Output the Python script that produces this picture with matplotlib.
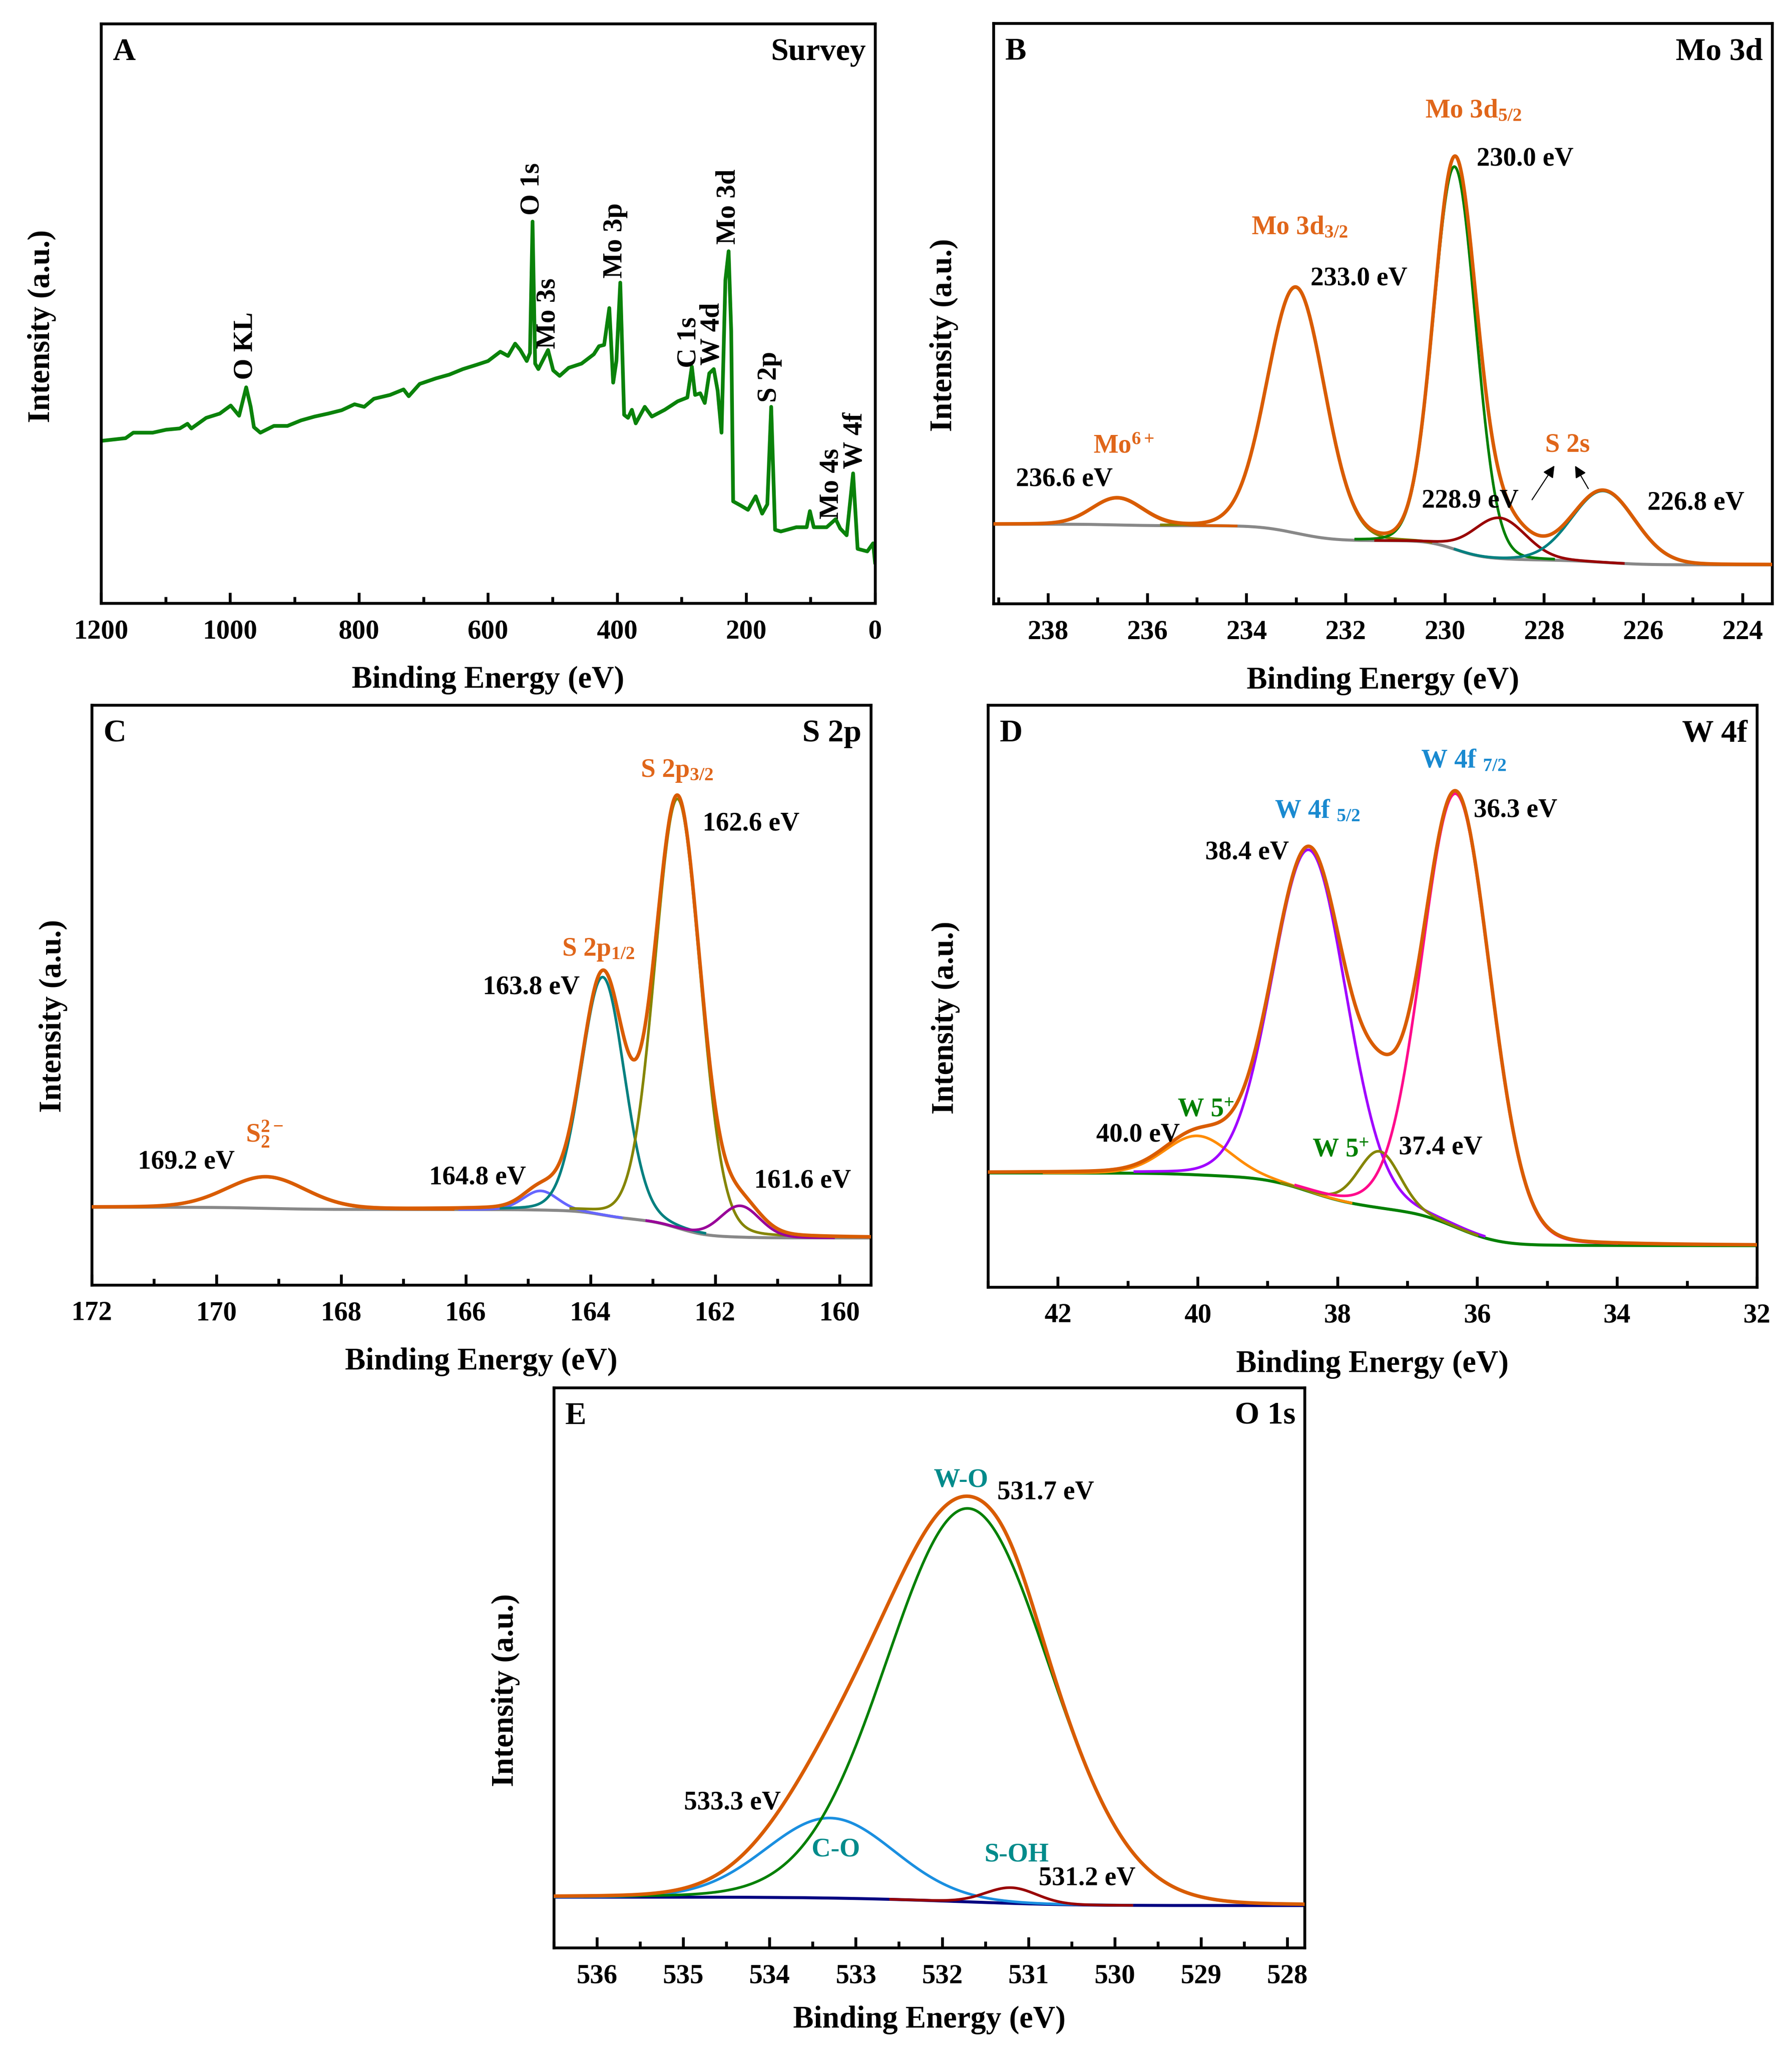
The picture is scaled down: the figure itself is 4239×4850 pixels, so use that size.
import numpy as np
import matplotlib
matplotlib.use('Agg')
import matplotlib.pyplot as plt
from matplotlib.ticker import MultipleLocator

plt.rcParams['font.family'] = ['Liberation Serif', 'DejaVu Serif']
plt.rcParams['font.weight'] = 'bold'
plt.rcParams['mathtext.fontset'] = 'custom'
plt.rcParams['mathtext.rm'] = 'Liberation Serif:bold'
plt.rcParams['mathtext.it'] = 'Liberation Serif:bold'
plt.rcParams['mathtext.bf'] = 'Liberation Serif:bold'
plt.rcParams['mathtext.default'] = 'rm'

# ---------------- data ----------------
# (A) survey spectrum, binding energy (eV) / intensity (a.u.)
survey_be = [1198, 1162, 1150, 1120, 1099, 1078, 1066, 1060, 1037, 1016,
             999, 986, 975, 968, 963, 953, 932, 911, 890, 869,
             848, 827, 807, 792, 777, 752, 731, 723, 706, 681,
             660, 639, 618, 600, 581, 569, 558, 550, 540, 535,
             531, 527, 522, 507, 499, 489, 475, 455, 436, 428,
             420, 412, 406, 401, 395, 389, 383, 377, 371, 357,
             346, 326, 306, 291, 284, 279, 271, 264, 257, 250,
             244, 238, 232, 227, 223, 220, 208, 197, 185, 175,
             167, 161, 155, 146, 122, 106, 101, 95, 75, 61,
             54, 44, 34, 27, 12, 3, 0]
survey_int = [383, 389, 402, 402, 409, 412, 423, 412, 437, 447,
              466, 442, 509, 463, 415, 402, 418, 418, 431, 440,
              447, 455, 469, 463, 482, 491, 504, 488, 517, 530,
              539, 552, 562, 571, 593, 583, 612, 597, 571, 590,
              900, 565, 552, 597, 549, 536, 555, 565, 587, 606,
              609, 696, 520, 571, 756, 444, 437, 456, 424, 463,
              440, 456, 476, 485, 558, 491, 495, 472, 542, 552,
              501, 402, 762, 830, 641, 240, 230, 220, 252, 211,
              233, 463, 173, 169, 179, 179, 217, 179, 179, 198,
              176, 160, 306, 128, 122, 141, 96]
survey_labels = ['O KL', 'O 1s', 'Mo 3s', 'Mo 3p', 'C 1s', 'W 4d', 'Mo 3d', 'S 2p', 'Mo 4s', 'W 4f']
survey_label_be = [976, 532, 507, 403, 288.5, 252.5, 227.5, 164, 67.5, 31]
survey_label_int = [527, 915, 600, 767, 555, 561, 846, 473, 198, 317]

# (B) Mo 3d fit: centre (eV), height, FWHM (eV); background levels (high BE, low BE)
mo_center = [236.6, 233.0, 229.8, 228.9, 226.8]
mo_height = [4.6, 42.3, 65.9, 7.0, 12.3]
mo_fwhm = [1.2, 1.36, 1.0, 1.25, 1.5]
mo_bg = (13.7, 6.7)

# (C) S 2p fit
s_center = [169.2, 164.8, 163.8, 162.6, 161.6]
s_height = [5.4, 3.3, 41.0, 74.0, 5.4]
s_fwhm = [1.5, 0.65, 0.82, 0.86, 0.75]
s_bg = (13.4, 8.1)

# (D) W 4f fit
w_center = [40.0, 38.4, 37.4, 36.3]
w_height = [6.7, 58.7, 9.7, 74.5]
w_fwhm = [1.1, 1.25, 0.7, 1.15]
w_bg = (19.6, 7.1)

# (E) O 1s fit
o_center = [533.3, 531.7, 531.2]
o_height = [14.3, 70.3, 2.8]
o_fwhm = [1.75, 2.22, 0.7]
o_bg = (9.0, 7.5)

# ---------------- styles ----------------
ENV = '#D95C00'
TXT_OR = '#E0661A'
mo_colors = ['#D95C00', '#808000', '#008000', '#990000', '#008080']
s_colors = ['#D95C00', '#6666FF', '#008080', '#858500', '#990099']
w_colors = ['#FF8C00', '#A000FF', '#858500', '#FF0A8C']
o_colors = ['#1A8FE0', '#008000', '#990000']

fig = plt.figure(figsize=(4239 / 300, 4850 / 300), dpi=300)

FS_TICK = 15.5
FS_LAB = 17.5
FS_ANN = 15
FS_TITLE = 18


def style_axes(ax, major, minor, ylab_x, ylab_y, xlab_y):
    for sp in ax.spines.values():
        sp.set_linewidth(1.6)
    ax.xaxis.set_major_locator(MultipleLocator(major))
    ax.xaxis.set_minor_locator(MultipleLocator(minor))
    ax.tick_params(axis='x', which='major', direction='in', length=6, width=1.6,
                   labelsize=FS_TICK, pad=9, top=False)
    ax.tick_params(axis='x', which='minor', direction='in', length=3.5, width=1.6, top=False)
    ax.tick_params(axis='y', which='both', left=False, right=False, labelleft=False)
    for lab in ax.get_xticklabels():
        lab.set_fontweight('bold')
    ax.set_xlabel('Binding Energy (eV)', fontsize=FS_LAB, fontweight='bold')
    ax.set_ylabel('Intensity (a.u.)', fontsize=FS_LAB, fontweight='bold')
    ax.yaxis.set_label_coords(ylab_x, ylab_y)
    ax.xaxis.set_label_coords(0.5, xlab_y)


def corner_labels(ax, letter, title):
    ax.text(0.015, 0.975, letter, transform=ax.transAxes, ha='left', va='top',
            fontsize=FS_TITLE, fontweight='bold')
    ax.text(0.988, 0.975, title, transform=ax.transAxes, ha='right', va='top',
            fontsize=FS_TITLE, fontweight='bold')


def pv(x, c, h, w, eta):
    d = (x - c) / w
    return h * ((1 - eta) * np.exp(-4 * np.log(2) * d ** 2) + eta / (1 + 4 * d ** 2))


def fit_panel(ax, xlim, centers, heights, fwhms, bg, colors, bgcolor, eta):
    x = np.linspace(min(xlim), max(xlim), 2000)  # ascending
    peaks = [pv(x, c, h, w, eta) for c, h, w in zip(centers, heights, fwhms)]
    total = np.sum(peaks, axis=0)
    cum = np.concatenate([[0], np.cumsum((total[1:] + total[:-1]) / 2 * np.diff(x))])
    bgl = bg[1] + (bg[0] - bg[1]) * cum / cum[-1]
    ax.plot(x, bgl, color=bgcolor, lw=1.7, zorder=2, solid_capstyle='round')
    for p, c, w, col in zip(peaks, centers, fwhms, colors):
        y = np.where(np.abs(x - c) <= 2.0 * w, bgl + p, np.nan)
        ax.plot(x, y, color=col, lw=1.5, zorder=3)
    ax.plot(x, bgl + total, color=ENV, lw=2.0, zorder=4)
    ax.set_xlim(xlim)
    ax.set_ylim(0, 100)


def ann(ax, x, y, s, color='black', fs=FS_ANN):
    ax.text(x, y, s, ha='left', va='baseline', fontsize=fs, fontweight='bold',
            color=color, zorder=6)


XLAB_Y = -0.108
DY = 0.021

# ---------------- (A) survey ----------------
axA = fig.add_axes([0.0564, 0.7058, 0.4319, 0.2827])
axA.plot(survey_be, survey_int, color='#0A820A', lw=2.1, solid_joinstyle='round')
axA.set_xlim(1200, 0)
axA.set_ylim(0, 1367)
style_axes(axA, 200, 100, -0.079 + DY, 0.478, XLAB_Y)
corner_labels(axA, 'A', 'Survey')
for s, xb, yb in zip(survey_labels, survey_label_be, survey_label_int):
    axA.text(xb, yb, s, rotation=90, ha='center', va='bottom', fontsize=15.5,
             fontweight='bold')

# ---------------- (B) Mo 3d ----------------
axB = fig.add_axes([0.5544, 0.7055, 0.4345, 0.2832])
fit_panel(axB, (239.1, 223.4), mo_center, mo_height, mo_fwhm, mo_bg, mo_colors, '#888888', 0.05)
style_axes(axB, 2, 1, -0.066 + DY, 0.463, XLAB_Y)
corner_labels(axB, 'B', 'Mo 3d')
ann(axB, 230.4, 83.7, r'Mo 3d$_{5/2}$', TXT_OR)
ann(axB, 229.36, 75.5, '230.0 eV')
ann(axB, 233.9, 63.6, r'Mo 3d$_{3/2}$', TXT_OR)
ann(axB, 232.71, 54.9, '233.0 eV')
ann(axB, 237.09, 26.0, r'Mo$^{6+}$', TXT_OR)
ann(axB, 238.65, 20.3, '236.6 eV')
ann(axB, 227.98, 26.2, 'S 2s', TXT_OR)
ann(axB, 230.47, 16.6, '228.9 eV')
ann(axB, 225.91, 16.2, '226.8 eV')
for tail, head in [((228.28, 17.4), (227.75, 24.3)), ((227.07, 19.3), (227.41, 24.3))]:
    axB.annotate('', xy=head, xytext=tail,
                 arrowprops=dict(arrowstyle='-|>', color='black', lw=0.6,
                                 mutation_scale=14), zorder=6)

# ---------------- (C) S 2p ----------------
axC = fig.add_axes([0.0512, 0.3732, 0.4348, 0.2829])
fit_panel(axC, (172, 159.5), s_center, s_height, s_fwhm, s_bg, s_colors, '#888888', 0.1)
style_axes(axC, 2, 1, -0.052 + DY, 0.464, XLAB_Y)
corner_labels(axC, 'C', 'S 2p')
ann(axC, 163.2, 87.6, r'S 2p$_{3/2}$', TXT_OR)
ann(axC, 162.2, 78.4, '162.6 eV')
ann(axC, 164.46, 56.8, r'S 2p$_{1/2}$', TXT_OR)
ann(axC, 165.73, 50.2, '163.8 eV')
ann(axC, 169.53, 24.7, r'S$_{2}^{2-}$', TXT_OR)
ann(axC, 171.26, 20.1, '169.2 eV')
ann(axC, 166.59, 17.4, '164.8 eV')
ann(axC, 161.37, 16.8, '161.6 eV')

# ---------------- (D) W 4f ----------------
axD = fig.add_axes([0.5513, 0.3722, 0.4291, 0.2839])
fit_panel(axD, (43, 32), w_center, w_height, w_fwhm, w_bg, w_colors, '#008000', 0.08)
style_axes(axD, 2, 1, -0.057 + DY, 0.463, XLAB_Y)
corner_labels(axD, 'D', 'W 4f')
BLUE_T = '#1A8AD0'
GREEN_T = '#008000'
ann(axD, 36.81, 89.2, r'W 4f $_{7/2}$', BLUE_T)
ann(axD, 36.05, 80.8, '36.3 eV')
ann(axD, 38.9, 80.6, r'W 4f $_{5/2}$', BLUE_T)
ann(axD, 39.89, 73.5, '38.4 eV')
ann(axD, 40.29, 29.3, r'W 5$^{+}$', GREEN_T)
ann(axD, 41.45, 25.0, '40.0 eV')
ann(axD, 38.36, 22.4, r'W 5$^{+}$', GREEN_T)
ann(axD, 37.12, 22.8, '37.4 eV')

# ---------------- (E) O 1s ----------------
axE = fig.add_axes([0.309, 0.050, 0.419, 0.273])
fit_panel(axE, (536.5, 527.8), o_center, o_height, o_fwhm, o_bg, o_colors, '#000080', 0.04)
style_axes(axE, 1, 0.5, -0.066 + DY, 0.46, -0.104)
corner_labels(axE, 'E', 'O 1s')
TEAL_T = '#008B8B'
ann(axE, 532.1, 82.3, 'W-O', TEAL_T)
ann(axE, 531.36, 80.1, '531.7 eV')
ann(axE, 534.99, 24.7, '533.3 eV')
ann(axE, 533.51, 16.3, 'C-O', TEAL_T)
ann(axE, 531.51, 15.4, 'S-OH', TEAL_T)
ann(axE, 530.88, 11.2, '531.2 eV')

fig.savefig('out.png', dpi=300)
